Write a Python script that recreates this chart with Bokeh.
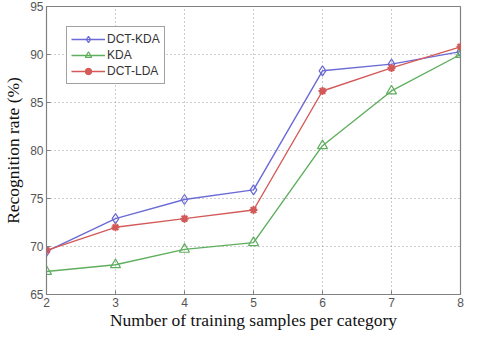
from bokeh.plotting import figure
from bokeh.embed import file_html
from bokeh.resources import INLINE
from bokeh.models import Legend, LegendItem, FixedTicker

samples = [2, 3, 4, 5, 6, 7, 8]
dct_kda = [69.5, 72.9, 74.9, 75.9, 88.3, 89.0, 90.3]
kda = [67.4, 68.1, 69.7, 70.4, 80.5, 86.2, 90.0]
dct_lda = [69.6, 72.0, 72.9, 73.8, 86.2, 88.6, 90.8]
series_names = ["DCT-KDA", "KDA", "DCT-LDA"]
y_ticks = [65, 70, 75, 80, 85, 90, 95]

p = figure(width=464, height=332, x_range=(2, 8), y_range=(65, 95),
           output_backend="svg", toolbar_location=None,
           min_border_left=40, min_border_right=4, min_border_top=6, min_border_bottom=0)

p.background_fill_color = "white"
p.border_fill_color = "white"
p.outline_line_color = "#808080"
p.outline_line_width = 1.2

for ax in (p.xaxis[0], p.yaxis[0]):
    ax.axis_line_color = "#808080"
    ax.major_tick_in = 4
    ax.major_tick_out = 0
    ax.minor_tick_in = 0
    ax.minor_tick_out = 0
    ax.major_tick_line_color = "#808080"
    ax.major_label_text_color = "#555555"
    ax.major_label_text_font = "Liberation Sans"
    ax.major_label_text_font_size = "12px"
    ax.axis_label_text_font = "Liberation Serif"
    ax.axis_label_text_font_style = "normal"
    ax.axis_label_text_font_size = "17.5px"
    ax.axis_label_text_color = "#111111"

p.xaxis.ticker = FixedTicker(ticks=samples)
p.yaxis.ticker = FixedTicker(ticks=y_ticks)
p.xaxis.axis_label = "Number of training samples per category"
p.yaxis.axis_label = "Recognition rate (%)"
p.xaxis.axis_label_standoff = 0
p.yaxis.axis_label_standoff = 4
p.xaxis.major_label_standoff = 3
p.yaxis.major_label_standoff = 3

p.xgrid.ticker = FixedTicker(ticks=samples)
p.ygrid.ticker = FixedTicker(ticks=y_ticks)
p.grid.grid_line_color = "#9a9a9a"
p.grid.grid_line_dash = "1 3"
p.grid.grid_line_width = 1

blue = "#6b6bd6"
green = "#5fae5f"
red = "#d45a5a"

l1 = p.line(samples, dct_kda, line_color=blue, line_width=1.4)
m1 = p.scatter(samples, dct_kda, marker="diamond", size=10, fill_color=None, line_color=blue, line_width=1.2)
l2 = p.line(samples, kda, line_color=green, line_width=1.4)
m2 = p.scatter(samples, kda, marker="triangle", size=10, fill_color=None, line_color=green, line_width=1.2)
l3 = p.line(samples, dct_lda, line_color=red, line_width=1.4)
m3 = p.scatter(samples, dct_lda, marker="asterisk", size=8, line_color=red, line_width=2)
m3b = p.scatter(samples, dct_lda, marker="circle", size=4, fill_color=red, line_color=red)

legend = Legend(items=[
    LegendItem(label=series_names[0], renderers=[l1, m1]),
    LegendItem(label=series_names[1], renderers=[l2, m2]),
    LegendItem(label=series_names[2], renderers=[l3, m3, m3b]),
], location="top_left")
legend.margin = 20
legend.padding = 4
legend.spacing = 0
legend.glyph_width = 34
legend.glyph_height = 16
legend.label_height = 16
legend.label_standoff = 2
legend.label_text_font = "Liberation Sans"
legend.label_text_font_size = "12px"
legend.label_text_color = "#333333"
legend.border_line_color = "#444444"
legend.border_line_width = 1.5
legend.background_fill_alpha = 1
p.add_layout(legend)

open("out.html", "w").write(file_html(p, INLINE))
